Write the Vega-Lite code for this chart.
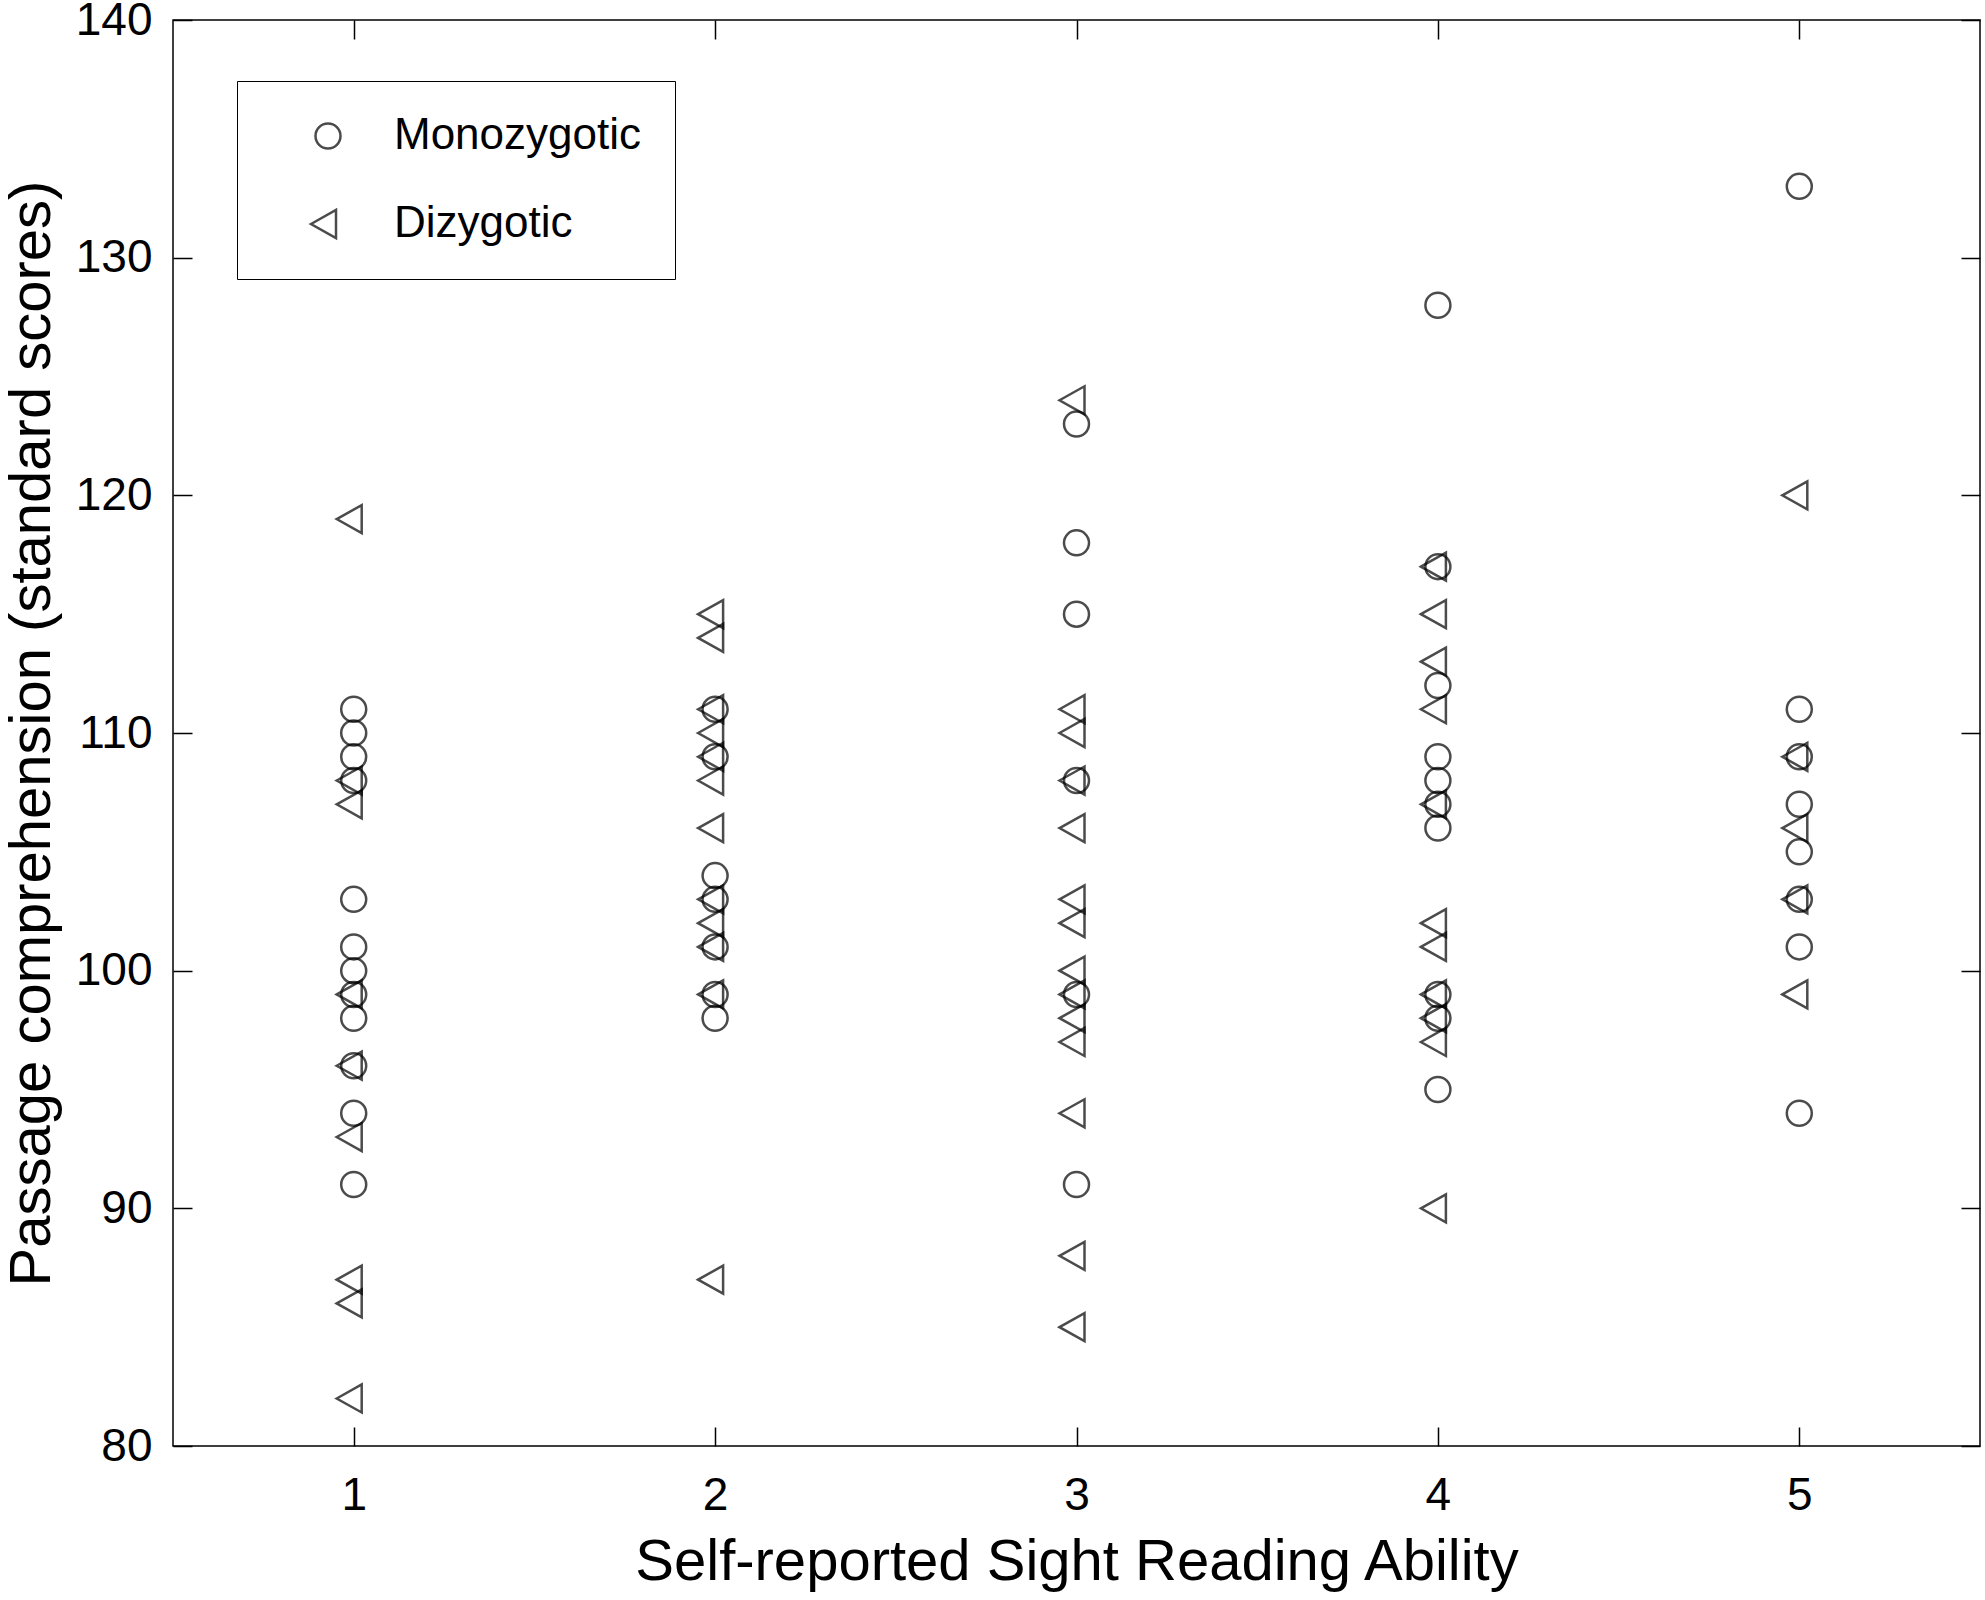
{
  "$schema": "https://vega.github.io/schema/vega-lite/v6.json",
  "width": 1807,
  "height": 1426,
  "autosize": "none",
  "padding": {"left": 173, "top": 20, "right": 5, "bottom": 154},
  "background": "white",
  "data": {
    "values": [
      {"ability": 1, "score": 111, "zygosity": "Monozygotic"},
      {"ability": 1, "score": 110, "zygosity": "Monozygotic"},
      {"ability": 1, "score": 109, "zygosity": "Monozygotic"},
      {"ability": 1, "score": 108, "zygosity": "Monozygotic"},
      {"ability": 1, "score": 103, "zygosity": "Monozygotic"},
      {"ability": 1, "score": 101, "zygosity": "Monozygotic"},
      {"ability": 1, "score": 100, "zygosity": "Monozygotic"},
      {"ability": 1, "score": 99, "zygosity": "Monozygotic"},
      {"ability": 1, "score": 98, "zygosity": "Monozygotic"},
      {"ability": 1, "score": 96, "zygosity": "Monozygotic"},
      {"ability": 1, "score": 94, "zygosity": "Monozygotic"},
      {"ability": 1, "score": 91, "zygosity": "Monozygotic"},
      {"ability": 1, "score": 119, "zygosity": "Dizygotic"},
      {"ability": 1, "score": 108, "zygosity": "Dizygotic"},
      {"ability": 1, "score": 107, "zygosity": "Dizygotic"},
      {"ability": 1, "score": 99, "zygosity": "Dizygotic"},
      {"ability": 1, "score": 96, "zygosity": "Dizygotic"},
      {"ability": 1, "score": 93, "zygosity": "Dizygotic"},
      {"ability": 1, "score": 87, "zygosity": "Dizygotic"},
      {"ability": 1, "score": 86, "zygosity": "Dizygotic"},
      {"ability": 1, "score": 82, "zygosity": "Dizygotic"},
      {"ability": 2, "score": 111, "zygosity": "Monozygotic"},
      {"ability": 2, "score": 109, "zygosity": "Monozygotic"},
      {"ability": 2, "score": 104, "zygosity": "Monozygotic"},
      {"ability": 2, "score": 103, "zygosity": "Monozygotic"},
      {"ability": 2, "score": 101, "zygosity": "Monozygotic"},
      {"ability": 2, "score": 99, "zygosity": "Monozygotic"},
      {"ability": 2, "score": 98, "zygosity": "Monozygotic"},
      {"ability": 2, "score": 115, "zygosity": "Dizygotic"},
      {"ability": 2, "score": 114, "zygosity": "Dizygotic"},
      {"ability": 2, "score": 111, "zygosity": "Dizygotic"},
      {"ability": 2, "score": 110, "zygosity": "Dizygotic"},
      {"ability": 2, "score": 109, "zygosity": "Dizygotic"},
      {"ability": 2, "score": 108, "zygosity": "Dizygotic"},
      {"ability": 2, "score": 106, "zygosity": "Dizygotic"},
      {"ability": 2, "score": 103, "zygosity": "Dizygotic"},
      {"ability": 2, "score": 102, "zygosity": "Dizygotic"},
      {"ability": 2, "score": 101, "zygosity": "Dizygotic"},
      {"ability": 2, "score": 99, "zygosity": "Dizygotic"},
      {"ability": 2, "score": 87, "zygosity": "Dizygotic"},
      {"ability": 3, "score": 123, "zygosity": "Monozygotic"},
      {"ability": 3, "score": 118, "zygosity": "Monozygotic"},
      {"ability": 3, "score": 115, "zygosity": "Monozygotic"},
      {"ability": 3, "score": 108, "zygosity": "Monozygotic"},
      {"ability": 3, "score": 99, "zygosity": "Monozygotic"},
      {"ability": 3, "score": 91, "zygosity": "Monozygotic"},
      {"ability": 3, "score": 124, "zygosity": "Dizygotic"},
      {"ability": 3, "score": 111, "zygosity": "Dizygotic"},
      {"ability": 3, "score": 110, "zygosity": "Dizygotic"},
      {"ability": 3, "score": 108, "zygosity": "Dizygotic"},
      {"ability": 3, "score": 106, "zygosity": "Dizygotic"},
      {"ability": 3, "score": 103, "zygosity": "Dizygotic"},
      {"ability": 3, "score": 102, "zygosity": "Dizygotic"},
      {"ability": 3, "score": 100, "zygosity": "Dizygotic"},
      {"ability": 3, "score": 99, "zygosity": "Dizygotic"},
      {"ability": 3, "score": 98, "zygosity": "Dizygotic"},
      {"ability": 3, "score": 97, "zygosity": "Dizygotic"},
      {"ability": 3, "score": 94, "zygosity": "Dizygotic"},
      {"ability": 3, "score": 88, "zygosity": "Dizygotic"},
      {"ability": 3, "score": 85, "zygosity": "Dizygotic"},
      {"ability": 4, "score": 128, "zygosity": "Monozygotic"},
      {"ability": 4, "score": 117, "zygosity": "Monozygotic"},
      {"ability": 4, "score": 112, "zygosity": "Monozygotic"},
      {"ability": 4, "score": 109, "zygosity": "Monozygotic"},
      {"ability": 4, "score": 108, "zygosity": "Monozygotic"},
      {"ability": 4, "score": 107, "zygosity": "Monozygotic"},
      {"ability": 4, "score": 106, "zygosity": "Monozygotic"},
      {"ability": 4, "score": 99, "zygosity": "Monozygotic"},
      {"ability": 4, "score": 98, "zygosity": "Monozygotic"},
      {"ability": 4, "score": 95, "zygosity": "Monozygotic"},
      {"ability": 4, "score": 117, "zygosity": "Dizygotic"},
      {"ability": 4, "score": 115, "zygosity": "Dizygotic"},
      {"ability": 4, "score": 113, "zygosity": "Dizygotic"},
      {"ability": 4, "score": 111, "zygosity": "Dizygotic"},
      {"ability": 4, "score": 107, "zygosity": "Dizygotic"},
      {"ability": 4, "score": 102, "zygosity": "Dizygotic"},
      {"ability": 4, "score": 101, "zygosity": "Dizygotic"},
      {"ability": 4, "score": 99, "zygosity": "Dizygotic"},
      {"ability": 4, "score": 98, "zygosity": "Dizygotic"},
      {"ability": 4, "score": 97, "zygosity": "Dizygotic"},
      {"ability": 4, "score": 90, "zygosity": "Dizygotic"},
      {"ability": 5, "score": 133, "zygosity": "Monozygotic"},
      {"ability": 5, "score": 111, "zygosity": "Monozygotic"},
      {"ability": 5, "score": 109, "zygosity": "Monozygotic"},
      {"ability": 5, "score": 107, "zygosity": "Monozygotic"},
      {"ability": 5, "score": 105, "zygosity": "Monozygotic"},
      {"ability": 5, "score": 103, "zygosity": "Monozygotic"},
      {"ability": 5, "score": 101, "zygosity": "Monozygotic"},
      {"ability": 5, "score": 94, "zygosity": "Monozygotic"},
      {"ability": 5, "score": 120, "zygosity": "Dizygotic"},
      {"ability": 5, "score": 109, "zygosity": "Dizygotic"},
      {"ability": 5, "score": 106, "zygosity": "Dizygotic"},
      {"ability": 5, "score": 103, "zygosity": "Dizygotic"},
      {"ability": 5, "score": 99, "zygosity": "Dizygotic"}
    ]
  },
  "layer": [
    {
      "mark": {"type": "point", "filled": false, "color": "black", "strokeWidth": 2.5, "size": 625},
      "encoding": {
        "x": {
          "field": "ability",
          "type": "quantitative",
          "scale": {"domain": [0.5, 5.5], "nice": false, "zero": false},
          "axis": {
            "orient": "bottom",
            "values": [1, 2, 3, 4, 5],
            "tickSize": -19,
            "labelPadding": 46,
            "titlePadding": 15
          },
          "title": "Self-reported Sight Reading Ability"
        },
        "y": {
          "field": "score",
          "type": "quantitative",
          "scale": {"domain": [80, 140], "nice": false, "zero": false},
          "axis": {
            "orient": "left",
            "values": [80, 90, 100, 110, 120, 130, 140],
            "tickSize": -19,
            "labelPadding": 40,
            "titlePadding": 14
          },
          "title": "Passage comprehension (standard scores)"
        },
        "shape": {
          "field": "zygosity",
          "type": "nominal",
          "scale": {
            "domain": ["Monozygotic", "Dizygotic"],
            "range": ["circle", "M-1.36,0L0.64,-1.12L0.64,1.12Z"]
          },
          "legend": {
            "title": null,
            "orient": "none",
            "legendX": 64,
            "legendY": 61,
            "padding": 33,
            "rowPadding": 44,
            "symbolOffset": 36,
            "labelOffset": 44,
            "symbolSize": 625,
            "symbolStrokeWidth": 2.5,
            "symbolStrokeColor": "black",
            "symbolFillColor": "transparent",
            "labelFontSize": 44,
            "labelFont": "Liberation Sans",
            "labelColor": "black",
            "strokeColor": "black",
            "fillColor": "white",
            "labelLimit": 0
          }
        }
      }
    },
    {
      "mark": {"type": "point", "opacity": 0},
      "encoding": {
        "x": {
          "field": "ability",
          "type": "quantitative",
          "axis": {"orient": "top", "values": [1, 2, 3, 4, 5], "tickSize": -19, "labels": false, "title": null}
        },
        "y": {
          "field": "score",
          "type": "quantitative",
          "axis": {"orient": "right", "values": [80, 90, 100, 110, 120, 130, 140], "tickSize": -19, "labels": false, "title": null}
        }
      }
    }
  ],
  "resolve": {"axis": {"x": "independent", "y": "independent"}},
  "config": {
    "view": {"stroke": "black", "strokeWidth": 1.5},
    "axis": {
      "grid": false,
      "domain": false,
      "tickColor": "black",
      "tickWidth": 1.5,
      "labelFont": "Liberation Sans",
      "labelFontSize": 46,
      "labelColor": "black",
      "titleFont": "Liberation Sans",
      "titleFontSize": 58,
      "titleFontWeight": "normal",
      "titleColor": "black"
    }
  }
}
